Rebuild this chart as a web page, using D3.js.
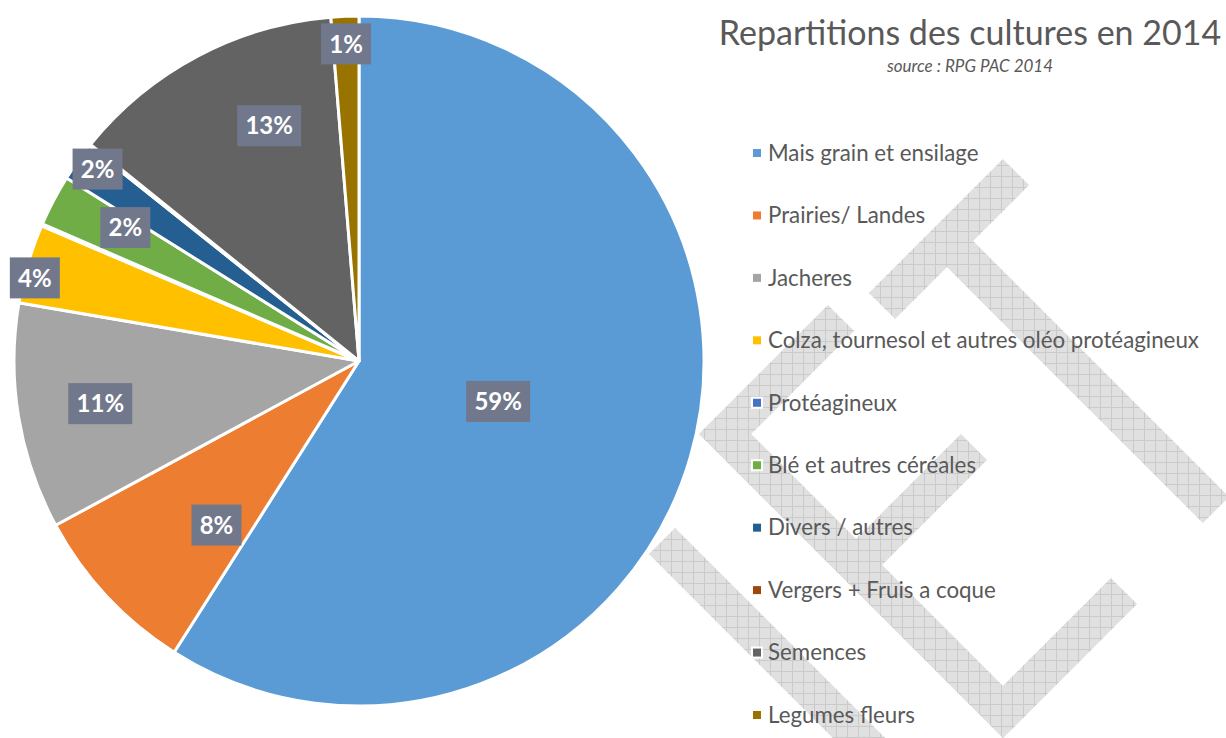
<!DOCTYPE html>
<html>
<head>
<meta charset="utf-8">
<script src="https://cdn.jsdelivr.net/npm/d3@7"></script>
<style>
  body { margin: 0; background: #fff; }
  svg { display: block; font-family: Lato, "Open Sans", sans-serif; }
</style>
</head>
<body>
<svg id="chart" width="1226" height="738"></svg>
<script>
// data (share of surface, %)
var categories = ["Mais grain et ensilage", "Prairies/ Landes", "Jacheres",
  "Colza, tournesol et autres oléo protéagineux", "Protéagineux",
  "Blé et autres céréales", "Divers / autres", "Vergers + Fruis a coque",
  "Semences", "Legumes fleurs"];
var values = [59.0, 8.1, 10.6, 3.7, 0.1, 2.4, 1.8, 0.1, 12.9, 1.3];
var colors = ["#5b9bd5", "#ed7d31", "#a5a5a5", "#ffc000", "#4472c4",
  "#70ad47", "#255e91", "#9e480e", "#636363", "#997300"];

// where the data labels sit (fraction of radius, extra turn in degrees)
var labelRadius = [0.42, 0.63, 0.76, 0.97, 0, 0.78, 0.94, 0, 0.73, 0.92];
var labelTurn = [0, -6, 0, -2, 0, 2, 1, 0, 7, 0];

var svg = d3.select("#chart");
var cx = 359, cy = 361, radius = 345;

// watermark in the background
var defs = svg.append("defs");
var pat = defs.append("pattern")
  .attr("id", "grid")
  .attr("patternUnits", "userSpaceOnUse")
  .attr("width", 11).attr("height", 11);
pat.append("rect").attr("width", 11).attr("height", 11).attr("fill", "#e0e0e0");
pat.append("path").attr("d", "M0,0.5H11M0.5,0V11")
  .attr("stroke", "#cacaca").attr("stroke-width", 1);

var marks = [
  [[882, 306], [1016, 172]],
  [[947, 241], [1216, 510]],
  [[841, 318], [725, 434], [1003, 712], [1124, 591]],
  [[974, 447], [856, 565]],
  [[662, 541], [880, 759]]
];
svg.append("g").selectAll("path")
  .data(marks)
  .enter().append("path")
  .attr("d", d3.line())
  .attr("fill", "none")
  .attr("stroke", "url(#grid)")
  .attr("stroke-width", 37)
  .attr("stroke-linejoin", "miter")
  .attr("stroke-linecap", "butt");

// pie
var pie = d3.pie().sort(null).value(function(d) { return d; });
var arcs = pie(values);
var arc = d3.arc().innerRadius(0).outerRadius(radius);

var g = svg.append("g").attr("transform", "translate(" + cx + "," + cy + ")");
g.selectAll("path.slice")
  .data(arcs)
  .enter().append("path")
  .attr("class", "slice")
  .attr("d", arc)
  .attr("fill", function(d, i) { return colors[i]; })
  .attr("stroke", "#fff")
  .attr("stroke-width", 3)
  .attr("stroke-linejoin", "round");

// data labels
var labels = g.selectAll("g.lbl")
  .data(arcs.filter(function(d) { return labelRadius[d.index] > 0; }))
  .enter().append("g")
  .attr("class", "lbl")
  .attr("transform", function(d) {
    var a = (d.startAngle + d.endAngle) / 2 + labelTurn[d.index] * Math.PI / 180;
    var r = radius * labelRadius[d.index];
    return "translate(" + (r * Math.sin(a)) + "," + (-r * Math.cos(a)) + ")";
  });
labels.append("rect")
  .attr("x", function(d) { return d.value >= 10 ? -32 : -25; })
  .attr("y", -20.5)
  .attr("width", function(d) { return d.value >= 10 ? 64 : 50; })
  .attr("height", 41)
  .attr("fill", "#72788c");
labels.append("text")
  .attr("text-anchor", "middle")
  .attr("dy", "0.36em")
  .attr("fill", "#fff")
  .attr("font-size", 24)
  .attr("font-weight", "bold")
  .text(function(d) { return Math.round(d.value) + "%"; });

// title
svg.append("text")
  .attr("x", 970).attr("y", 45)
  .attr("text-anchor", "middle")
  .attr("fill", "#595959")
  .attr("font-size", 34)
  .text("Repartitions des cultures en 2014");
svg.append("text")
  .attr("x", 970).attr("y", 72)
  .attr("text-anchor", "middle")
  .attr("fill", "#595959")
  .attr("font-size", 17)
  .attr("font-style", "italic")
  .text("source : RPG PAC 2014");

// legend
var ly = d3.scalePoint().domain(categories).range([153, 715]);
var leg = svg.append("g").selectAll("g")
  .data(categories)
  .enter().append("g")
  .attr("transform", function(d) { return "translate(752," + ly(d) + ")"; });
leg.append("rect")
  .attr("x", 0).attr("y", -5)
  .attr("width", 10).attr("height", 10)
  .attr("fill", function(d, i) { return colors[i]; })
  .attr("stroke", "#fff").attr("stroke-width", 2);
leg.append("text")
  .attr("x", 16).attr("dy", "0.35em")
  .attr("fill", "#595959")
  .attr("font-size", 22.3)
  .text(function(d) { return d; });
</script>
</body>
</html>
